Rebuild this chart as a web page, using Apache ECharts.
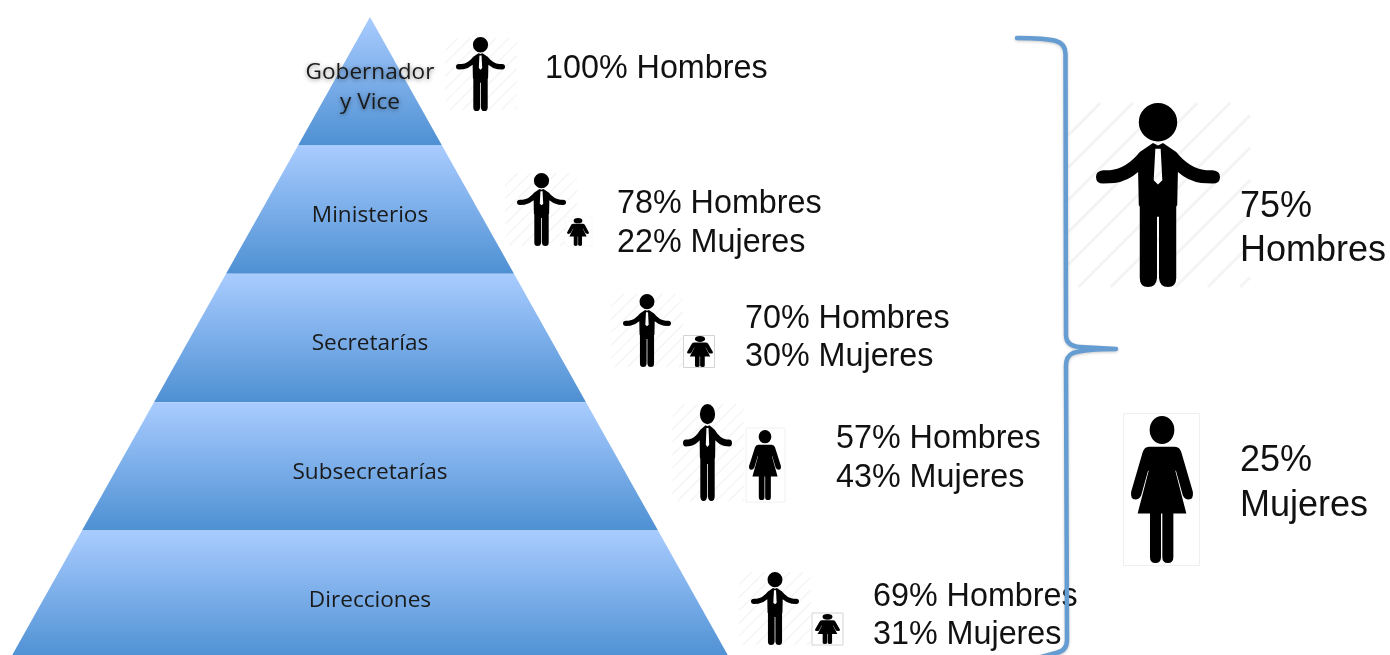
<!DOCTYPE html>
<html lang="es">
<head>
<meta charset="utf-8">
<title>Participación por nivel de gobierno</title>
<style>html,body{margin:0;padding:0;background:#fff}#chart{width:1390px;height:655px}</style>
<script src="https://cdn.jsdelivr.net/npm/echarts@6/dist/echarts.min.js"></script>
</head>
<body>
<div id="chart"></div>
<script>
// Niveles de la pirámide, de la cúspide a la base
const tierNames = ['Gobernador\ny Vice', 'Ministerios', 'Secretarías', 'Subsecretarías', 'Direcciones'];
const tierRanks = [1, 2, 3, 4, 5];
const menShare = [100, 78, 70, 57, 69];
const womenShare = [0, 22, 30, 43, 31];
const totalMen = 75;
const totalWomen = 25;

// Siluetas en coordenadas propias; 'cover' las ajusta a cada recuadro
const MAN = 'M-58 55A58 58 0 1 1 58 55A58 58 0 1 1-58 55Z' +
  'M-15 118L-55 145Q-95 195-145 200L-165 200Q-187 202-187 220Q-187 240-165 240L-130 238Q-90 232-60 205' +
  'L-58 305L-55 310L-55 525Q-55 552-30 552Q-5 552-3 525L-3 340L3 340L3 525Q5 552 30 552Q55 552 55 525' +
  'L55 310L58 305L60 205Q90 232 130 238L165 240Q187 240 187 220Q187 202 165 200L145 200Q95 195 55 145L15 118L0 125Z' +
  'M-8 135L8 135L13 230L0 243L-13 230Z';
const WOMAN = 'M-38 50A38 42 0 1 1 38 50A38 42 0 1 1-38 50Z' +
  'M-40 100Q-55 100-60 118L-95 235Q-98 258-82 258Q-70 258-64 245L-43 172L-41 172L-75 300L-37 300L-37 430' +
  'Q-37 448-20 448Q-3 448-3 430L-3 300L1 300L1 430Q1 448 18 448Q35 448 35 430L35 300L75 300L41 172L43 172' +
  'L64 245Q70 258 82 258Q98 258 95 235L60 118Q55 100 40 100Z';

// Recuadros [x, y, ancho, alto] de iconos, tramas y fondos
const menIcons = [
  [456, 37, 49, 74], [517, 173, 49, 73], [623, 294, 48, 73], [683, 404, 49, 97], [751, 572, 48, 73], [1096, 103, 124, 184]
];
const hatchBoxes = [
  [445, 38, 72, 72], [505, 173, 72, 73], [611, 294, 72, 73], [672, 404, 72, 97], [739, 572, 72, 73], [1068, 103, 182, 184]
];
const womenIcons = [
  null, [567, 218, 22, 28], [687, 336, 26, 31], [749, 430, 32, 70], [815, 614, 25, 30], [1131, 416, 62, 147]
];
const womenFrames = [
  null, [565, 217, 27, 29], [683.5, 335.5, 31, 32], [746, 428, 39, 74], [812, 613, 31, 32], [1123.5, 413.5, 76, 152]
];
const frameColors = [null, '#f9f9f9', '#d4d4d4', '#f0f0f0', '#d4d4d4', '#efefef'];

// Posiciones de los textos de porcentaje: [x, y hombres, y mujeres]
const shareText = [[545, 69, null], [617, 204, 243], [745, 319, 357], [836, 439, 478], [873, 597, 635]];

const BRACKET = 'M1017 38Q1045 38 1056 41Q1066 44 1065.5 55L1066 335Q1066 346 1080 347L1116 349' +
  'Q1085 349 1073 353Q1066 356 1066 366L1067 640Q1067 651 1056 653L1030 660';

const BODY_FONT = '"Liberation Sans", Arial, sans-serif';
const INK = '#111111';

function hatchPath([x, y, w, h], step) {
  // Diagonales a 45° recortadas al recuadro
  let d = '';
  for (let c = step; c < w + h; c += step) {
    const x0 = Math.max(0, c - h), y0 = Math.min(c, h);
    const x1 = Math.min(c, w), y1 = Math.max(0, c - w);
    d += `M${x + x0} ${y + y0}L${x + x1} ${y + y1}`;
  }
  return d;
}

function icon(path, box) {
  return {
    type: 'path',
    shape: { pathData: path, layout: 'cover', x: box[0], y: box[1], width: box[2], height: box[3] },
    style: { fill: '#000' }
  };
}

function label(text, x, y, size) {
  return {
    type: 'text', z: 7,
    style: { text, x, y, fill: INK, font: `${size}px ${BODY_FONT}`, align: 'left', verticalAlign: 'middle' }
  };
}

// Tramas, fondos e iconos se dibujan en orden dentro de un mismo grupo
function renderFigures() {
  const children = [];
  hatchBoxes.forEach(box => {
    children.push({
      type: 'path',
      shape: { pathData: hatchPath(box, box[2] * 0.178) },
      style: { fill: 'none', stroke: '#f4f4f4', lineWidth: Math.max(1.2, box[2] * 0.016) }
    });
  });
  womenFrames.forEach((f, i) => {
    if (!f) return;
    children.push({
      type: 'rect',
      shape: { x: f[0], y: f[1], width: f[2], height: f[3] },
      style: { fill: '#fff', stroke: frameColors[i], lineWidth: 1 }
    });
  });
  menIcons.forEach(b => children.push(icon(MAN, b)));
  womenIcons.forEach(b => { if (b) children.push(icon(WOMAN, b)); });
  return { type: 'group', children };
}

function renderBracket() {
  return {
    type: 'path',
    shape: { pathData: BRACKET },
    style: {
      fill: 'none', stroke: '#659cd2', lineWidth: 4.5, lineCap: 'round', lineJoin: 'round',
      shadowColor: 'rgba(0,0,0,0.22)', shadowBlur: 3, shadowOffsetY: 1
    }
  };
}

const texts = [];
shareText.forEach(([x, yMen, yWomen], i) => {
  texts.push(label(`${menShare[i]}% Hombres`, x, yMen, 32.3));
  if (womenShare[i] > 0) texts.push(label(`${womenShare[i]}% Mujeres`, x, yWomen, 32.3));
});
texts.push(label(`${totalMen}%`, 1240, 207, 36));
texts.push(label('Hombres', 1240, 251, 36));
texts.push(label(`${totalWomen}%`, 1240, 461, 36));
texts.push(label('Mujeres', 1240, 506, 36));

const tierGradient = {
  type: 'linear', x: 0, y: 0, x2: 0, y2: 1,
  colorStops: [{ offset: 0, color: '#a9ccff' }, { offset: 1, color: '#4e90d3' }]
};

const chart = echarts.init(document.getElementById('chart'), null, { renderer: 'canvas' });
chart.setOption({
  animation: false,
  backgroundColor: '#ffffff',
  series: [{
    type: 'funnel',
    left: 10, top: 17, width: 720, height: 642,
    min: 0, max: 5, minSize: 0, maxSize: '100%',
    sort: 'ascending',
    gap: 0,
    silent: true,
    label: {
      show: true, position: 'inside',
      color: '#1a1a1a', fontFamily: '"Open Sans", sans-serif', fontSize: 22.6, lineHeight: 30
    },
    labelLayout: { dy: 6 },
    labelLine: { show: false },
    itemStyle: { color: tierGradient, borderWidth: 0 },
    data: tierNames.map((name, i) => ({
      name,
      value: tierRanks[i],
      label: i === 0 ? { textShadowColor: 'rgba(0,0,0,0.45)', textShadowBlur: 4, textShadowOffsetY: 1 } : undefined
    }))
  }, {
    type: 'custom', coordinateSystem: 'none', z: 4, silent: true,
    data: [0], renderItem: renderFigures
  }, {
    type: 'custom', coordinateSystem: 'none', z: 9, silent: true,
    data: [0], renderItem: renderBracket
  }],
  graphic: { elements: texts }
});
</script>
</body>
</html>
